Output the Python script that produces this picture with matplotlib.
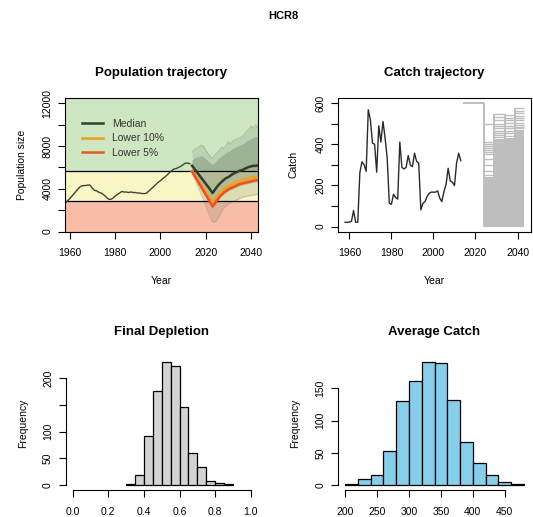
import numpy as np
import matplotlib.pyplot as plt
from matplotlib.lines import Line2D

plt.rcParams['font.family'] = ['Liberation Sans', 'DejaVu Sans']
plt.rcParams['axes.linewidth'] = 0.8
plt.rcParams['xtick.major.width'] = 0.8
plt.rcParams['ytick.major.width'] = 0.8

# ---- population trajectory data ----
hist_years = np.arange(1958, 2014)
pop_hist = [2650, 2850, 3050, 3300, 3550, 3800, 4050, 4250, 4300, 4300,
            4350, 4350, 4050, 3850, 3800, 3650, 3600, 3450, 3250, 3050,
            3000, 3100, 3300, 3450, 3600, 3750, 3700, 3700, 3650, 3700,
            3650, 3650, 3600, 3600, 3550, 3550, 3600, 3800, 4000, 4200,
            4400, 4600, 4750, 4950, 5100, 5300, 5500, 5700, 5850, 5900,
            6000, 6100, 6250, 6400, 6400, 6350]

proj_years = np.arange(2014, 2044)
pop_median = [6150, 5870, 5590, 5310, 5030, 4750, 4470, 4190, 3900, 3600,
              3900, 4200, 4450, 4650, 4850, 5000, 5100, 5250, 5400, 5500,
              5600, 5700, 5750, 5850, 5950, 6050, 6100, 6150, 6150, 6200]
pop_low10 = [5650, 5320, 5000, 4670, 4340, 4010, 3690, 3360, 3030, 2700,
             3000, 3300, 3550, 3750, 3950, 4100, 4200, 4350, 4450, 4550,
             4650, 4700, 4800, 4850, 4900, 5000, 5050, 5050, 5100, 5100]
pop_low5 = [5600, 5240, 4880, 4520, 4160, 3800, 3440, 3080, 2720, 2350,
            2650, 2950, 3250, 3450, 3650, 3800, 3950, 4050, 4150, 4250,
            4350, 4450, 4500, 4550, 4600, 4650, 4700, 4750, 4800, 4800]
# envelope of the simulated trajectories
traj_upper = [7400, 7700, 7800, 7900, 8100, 8000, 7600, 7300, 7000, 6900,
              7200, 7400, 7600, 7900, 7800, 8100, 8400, 8200, 8500, 8600,
              8700, 8800, 8900, 9100, 9400, 9600, 9900, 9700, 10000, 9700]
traj_lower = [5500, 5000, 4500, 4000, 3500, 3000, 2400, 1800, 1300, 900,
              900, 1100, 1500, 1900, 2200, 2400, 2600, 2700, 2800, 2900,
              3000, 3100, 3200, 3250, 3300, 3350, 3400, 3400, 3450, 3500]
traj_dense_upper = [6700, 6900, 7000, 7000, 7100, 7000, 6800, 6600, 6400, 6300,
                    6500, 6700, 6900, 7100, 7200, 7400, 7500, 7600, 7800, 7900,
                    8000, 8100, 8200, 8300, 8500, 8600, 8700, 8800, 8900, 8900]
traj_dense_lower = [5550, 5180, 4800, 4420, 4050, 3680, 3300, 2920, 2550, 2200,
                    2500, 2800, 3100, 3300, 3500, 3650, 3800, 3900, 4000, 4100,
                    4200, 4300, 4350, 4400, 4450, 4500, 4550, 4600, 4650, 4650]
pop_limits = [2850, 5700]

# ---- catch trajectory data ----
catch_hist = [21, 21, 22, 25, 78, 21, 21, 262, 314, 300,
              268, 567, 518, 405, 400, 264, 489, 410, 510, 430,
              332, 113, 108, 157, 141, 133, 410, 287, 280, 287,
              345, 298, 291, 356, 316, 308, 81, 113, 121, 146,
              162, 167, 167, 167, 173, 138, 121, 170, 205, 283,
              221, 215, 199, 308, 356, 320]
catch_fixed_years = [2014, 2024]
catch_fixed = 600
block_starts = [2024, 2029, 2034, 2039, 2043]
block_dense_top = [240, 425, 430, 470]
block_levels = [
    [498, 410, 400, 390, 380, 372, 362, 350, 330, 300, 270, 250],
    [546, 530, 515, 500, 490, 478, 466, 455, 445, 435],
    [540, 528, 515, 502, 490, 478, 465, 452, 440],
    [575, 562, 550, 538, 526, 515, 505, 495, 485, 478],
]

# ---- histogram data ----
dep_edges = [0.30, 0.35, 0.40, 0.45, 0.50, 0.55, 0.60, 0.65, 0.70, 0.75, 0.80, 0.85, 0.90]
dep_counts = [2, 19, 92, 177, 231, 224, 146, 61, 34, 7, 4, 2]
avc_edges = [200, 220, 240, 260, 280, 300, 320, 340, 360, 380, 400, 420, 440, 460, 480]
avc_counts = [1, 10, 15, 53, 130, 161, 191, 190, 132, 67, 34, 15, 4, 1]

W, H = 533, 517
fig = plt.figure(figsize=(W / 100, H / 100), dpi=100)


def rect(l, t, r, b):
    return [l / W, 1 - b / H, (r - l) / W, (b - t) / H]


TICK = 7.5
LAB = 7.5
TTL = 9.5

# ---------------- population trajectory ----------------
ax1 = fig.add_axes(rect(65, 98, 258, 231.5))
ax1.set_xlim(1958, 2043)
ax1.set_ylim(0, 12500)
ax1.axhspan(pop_limits[1], 12500, color='#cfe6c3', lw=0)
ax1.axhspan(pop_limits[0], pop_limits[1], color='#f8f6c4', lw=0)
ax1.axhspan(0, pop_limits[0], color='#f8bda6', lw=0)
tcol = '#6f8266'
ax1.fill_between(proj_years, traj_lower, traj_upper, color=tcol, alpha=0.2, lw=0)
ax1.fill_between(proj_years, traj_dense_lower, traj_dense_upper, color=tcol, alpha=0.38, lw=0)
ax1.plot(proj_years, traj_upper, color=tcol, alpha=0.35, lw=0.8)
ax1.plot(proj_years, traj_lower, color='#c09088', alpha=0.5, lw=0.8)
for v in pop_limits:
    ax1.axhline(v, color='black', lw=0.9)
ax1.plot(hist_years, pop_hist, color='#3c463a', lw=1.0)
ax1.plot(proj_years, pop_median, color='#323c30', lw=1.8)
ax1.plot(proj_years, pop_low10, color='#f5a020', lw=2.0)
ax1.plot(proj_years, pop_low5, color='#ee5020', lw=1.8)
ax1.set_xticks([1960, 1980, 2000, 2020, 2040])
ax1.set_yticks(range(0, 12001, 2000))
ax1.set_yticklabels(['0', '', '4000', '', '8000', '', '12000'])
ax1.set_title('Population trajectory', fontsize=TTL, fontweight='bold', pad=16)
ax1.set_xlabel('Year', fontsize=LAB, labelpad=13)
ax1.set_ylabel('Population size', fontsize=LAB, labelpad=11)
handles = [Line2D([], [], color='#323c30', lw=1.8),
           Line2D([], [], color='#e8a020', lw=1.8),
           Line2D([], [], color='#e06020', lw=1.8)]
leg = ax1.legend(handles, ['Median', 'Lower 10%', 'Lower 5%'], loc='upper left',
                 bbox_to_anchor=(0.065, 0.875), frameon=False, fontsize=TICK,
                 handlelength=2.0, handletextpad=0.9, labelspacing=0.42,
                 borderaxespad=0)
for t in leg.get_texts():
    t.set_color('#333333')

# ---------------- catch trajectory ----------------
ax2 = fig.add_axes(rect(338, 98, 531, 231.5))
ax2.set_xlim(1954.6, 2046.4)
ax2.set_ylim(-24, 624)
gcol = '#bebebe'
ax2.hlines(catch_fixed, catch_fixed_years[0], catch_fixed_years[1], color=gcol, lw=1.4)
prev_top = catch_fixed
for i in range(4):
    s, e = block_starts[i], block_starts[i + 1]
    ax2.fill_between([s, e], 0, block_dense_top[i], color=gcol, lw=0)
    ax2.hlines(block_levels[i], s, e, color=gcol, lw=1.0)
    top = max(block_levels[i])
    ax2.vlines(s, 0, max(prev_top, top), color=gcol, lw=1.4)
    prev_top = top
ax2.plot(hist_years, catch_hist, color='#2a2a2a', lw=1.0)
ax2.set_xticks([1960, 1980, 2000, 2020, 2040])
ax2.set_yticks(range(0, 601, 100))
ax2.set_yticklabels(['0', '', '200', '', '400', '', '600'])
ax2.set_title('Catch trajectory', fontsize=TTL, fontweight='bold', pad=16)
ax2.set_xlabel('Year', fontsize=LAB, labelpad=13)
ax2.set_ylabel('Catch', fontsize=LAB, labelpad=12)

# ---------------- histograms ----------------
ax3 = fig.add_axes(rect(65.5, 357, 258, 490))
ax3.bar(dep_edges[:-1], dep_counts, width=0.05, align='edge',
        color='lightgray', edgecolor='black', lw=0.9)
ax3.set_xlim(-0.04, 1.04)
ax3.set_ylim(-0.04 * max(dep_counts), 1.04 * max(dep_counts))
ax3.set_xticks([0.0, 0.2, 0.4, 0.6, 0.8, 1.0])
ax3.set_xticklabels(['0.0', '0.2', '0.4', '0.6', '0.8', '1.0'])
ax3.set_yticks([0, 50, 100, 150, 200])
ax3.set_yticklabels(['0', '50', '100', '', '200'])
ax3.spines['bottom'].set_bounds(0, 1)
ax3.spines['left'].set_bounds(0, 200)
ax3.set_title('Final Depletion', fontsize=TTL, fontweight='bold', pad=16)
ax3.set_ylabel('Frequency', fontsize=LAB, labelpad=11)

ax4 = fig.add_axes(rect(338, 357, 531, 490))
ax4.bar(avc_edges[:-1], avc_counts, width=20, align='edge',
        color='skyblue', edgecolor='black', lw=0.9)
ax4.set_xlim(188.8, 491.2)
ax4.set_ylim(-0.04 * max(avc_counts), 1.04 * max(avc_counts))
ax4.set_xticks([200, 250, 300, 350, 400, 450])
ax4.set_yticks([0, 50, 100, 150])
ax4.spines['bottom'].set_bounds(200, 450)
ax4.spines['left'].set_bounds(0, 150)
ax4.set_title('Average Catch', fontsize=TTL, fontweight='bold', pad=16)
ax4.set_ylabel('Frequency', fontsize=LAB, labelpad=11)

for ax in (ax3, ax4):
    ax.spines['top'].set_visible(False)
    ax.spines['right'].set_visible(False)

for ax in (ax1, ax2, ax3, ax4):
    ax.tick_params(axis='both', labelsize=TICK, length=5)
    ax.tick_params(axis='x', pad=7)
    ax.tick_params(axis='y', labelrotation=90, pad=4)
    for lab in ax.get_yticklabels():
        lab.set_va('center')

fig.text(283 / W, 1 - 16 / H, 'HCR8', ha='center', va='center',
         fontsize=8, fontweight='bold')

fig.savefig('out.png', dpi=100)
